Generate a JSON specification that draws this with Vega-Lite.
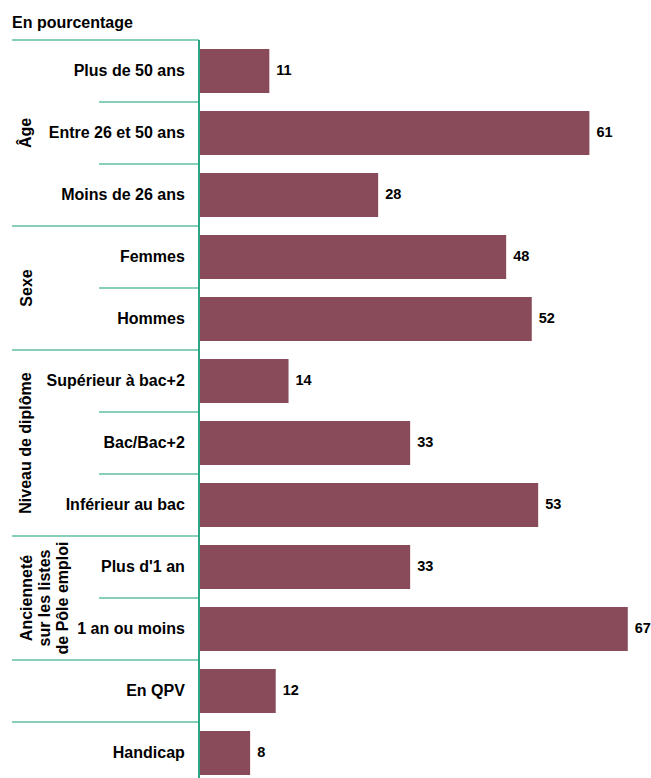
{
  "$schema": "https://vega.github.io/schema/vega-lite/v6.json",
  "autosize": {"type": "none"},
  "width": 635,
  "height": 744,
  "padding": {"left": 12, "top": 40, "right": 4, "bottom": 0},
  "background": "white",
  "config": {"view": {"stroke": null}, "font": "Liberation Sans"},
  "title": {"text": "En pourcentage", "anchor": "start", "frame": "group", "fontSize": 16, "fontWeight": "bold", "color": "#000000", "font": "Liberation Sans", "offset": 8},
  "datasets": {
    "bars": [
      {"cat": "Plus de 50 ans", "value": 11},
      {"cat": "Entre 26 et 50 ans", "value": 61},
      {"cat": "Moins de 26 ans", "value": 28},
      {"cat": "Femmes", "value": 48},
      {"cat": "Hommes", "value": 52},
      {"cat": "Supérieur à bac+2", "value": 14},
      {"cat": "Bac/Bac+2", "value": 33},
      {"cat": "Inférieur au bac", "value": 53},
      {"cat": "Plus d'1 an", "value": 33},
      {"cat": "1 an ou moins", "value": 67},
      {"cat": "En QPV", "value": 12},
      {"cat": "Handicap", "value": 8}
    ],
    "seps": [
      {"cat": "Plus de 50 ans", "kind": "long"},
      {"cat": "Entre 26 et 50 ans", "kind": "short"},
      {"cat": "Moins de 26 ans", "kind": "short"},
      {"cat": "Femmes", "kind": "long"},
      {"cat": "Hommes", "kind": "short"},
      {"cat": "Supérieur à bac+2", "kind": "long"},
      {"cat": "Bac/Bac+2", "kind": "short"},
      {"cat": "Inférieur au bac", "kind": "short"},
      {"cat": "Plus d'1 an", "kind": "long"},
      {"cat": "1 an ou moins", "kind": "short"},
      {"cat": "En QPV", "kind": "long"},
      {"cat": "Handicap", "kind": "long"}
    ],
    "groups": [
      {"label": "Âge", "cat": "Entre 26 et 50 ans", "at": "middle"},
      {"label": "Sexe", "cat": "Hommes", "at": "start"},
      {"label": "Niveau de diplôme", "cat": "Bac/Bac+2", "at": "middle"},
      {"label": "Ancienneté\nsur les listes\nde Pôle emploi", "cat": "1 an ou moins", "at": "start"}
    ]
  },
  "encoding": {
    "y": {
      "field": "cat",
      "type": "nominal",
      "sort": null,
      "scale": {
        "domain": ["Plus de 50 ans", "Entre 26 et 50 ans", "Moins de 26 ans", "Femmes", "Hommes", "Supérieur à bac+2", "Bac/Bac+2", "Inférieur au bac", "Plus d'1 an", "1 an ou moins", "En QPV", "Handicap"],
        "paddingInner": 0,
        "paddingOuter": 0
      },
      "axis": null
    }
  },
  "layer": [
    {
      "data": {"name": "bars"},
      "mark": {"type": "bar", "color": "#894b5a", "height": {"band": 0.71}},
      "encoding": {
        "x": {"field": "value", "type": "quantitative", "scale": {"domain": [-29.2, 70], "nice": false, "zero": false}, "axis": null}
      }
    },
    {
      "data": {"name": "bars"},
      "mark": {"type": "text", "align": "left", "baseline": "middle", "dx": 7, "fontSize": 14.5, "fontWeight": "bold", "color": "#000000"},
      "encoding": {
        "x": {"field": "value", "type": "quantitative"},
        "text": {"field": "value", "type": "quantitative"}
      }
    },
    {
      "data": {"name": "bars"},
      "mark": {"type": "text", "align": "right", "baseline": "middle", "fontSize": 16, "fontWeight": "bold", "color": "#000000"},
      "encoding": {
        "x": {"datum": -2.2, "type": "quantitative"},
        "text": {"field": "cat", "type": "nominal"}
      }
    },
    {
      "data": {"name": "seps"},
      "transform": [{"filter": "datum.kind === 'long'"}],
      "mark": {"type": "rule", "color": "#5fbfa3", "strokeWidth": 1.5},
      "encoding": {
        "x": {"datum": -29.2, "type": "quantitative"},
        "x2": {"datum": 0},
        "y": {"field": "cat", "type": "nominal", "bandPosition": 0}
      }
    },
    {
      "data": {"name": "seps"},
      "transform": [{"filter": "datum.kind === 'short'"}],
      "mark": {"type": "rule", "color": "#5fbfa3", "strokeWidth": 1.5},
      "encoding": {
        "x": {"datum": -15.6, "type": "quantitative"},
        "x2": {"datum": 0},
        "y": {"field": "cat", "type": "nominal", "bandPosition": 0}
      }
    },
    {
      "data": {"name": "bars"},
      "mark": {"type": "rule", "color": "#2ea584", "strokeWidth": 1.5},
      "encoding": {
        "x": {"datum": 0, "type": "quantitative"},
        "y": {"value": 0},
        "y2": {"value": 744}
      }
    },
    {
      "data": {"name": "groups"},
      "transform": [{"filter": "datum.at === 'middle'"}],
      "mark": {"type": "text", "angle": 270, "align": "center", "baseline": "alphabetic", "fontSize": 16, "fontWeight": "bold", "color": "#000000", "lineBreak": "\n", "lineHeight": 18},
      "encoding": {
        "x": {"datum": -26.3, "type": "quantitative"},
        "y": {"field": "cat", "type": "nominal", "bandPosition": 0.5},
        "text": {"field": "label", "type": "nominal"}
      }
    },
    {
      "data": {"name": "groups"},
      "transform": [{"filter": "datum.at === 'start'"}],
      "mark": {"type": "text", "angle": 270, "align": "center", "baseline": "alphabetic", "fontSize": 16, "fontWeight": "bold", "color": "#000000", "lineBreak": "\n", "lineHeight": 18},
      "encoding": {
        "x": {"datum": -26.1, "type": "quantitative"},
        "y": {"field": "cat", "type": "nominal", "bandPosition": 0},
        "text": {"field": "label", "type": "nominal"}
      }
    }
  ]
}
